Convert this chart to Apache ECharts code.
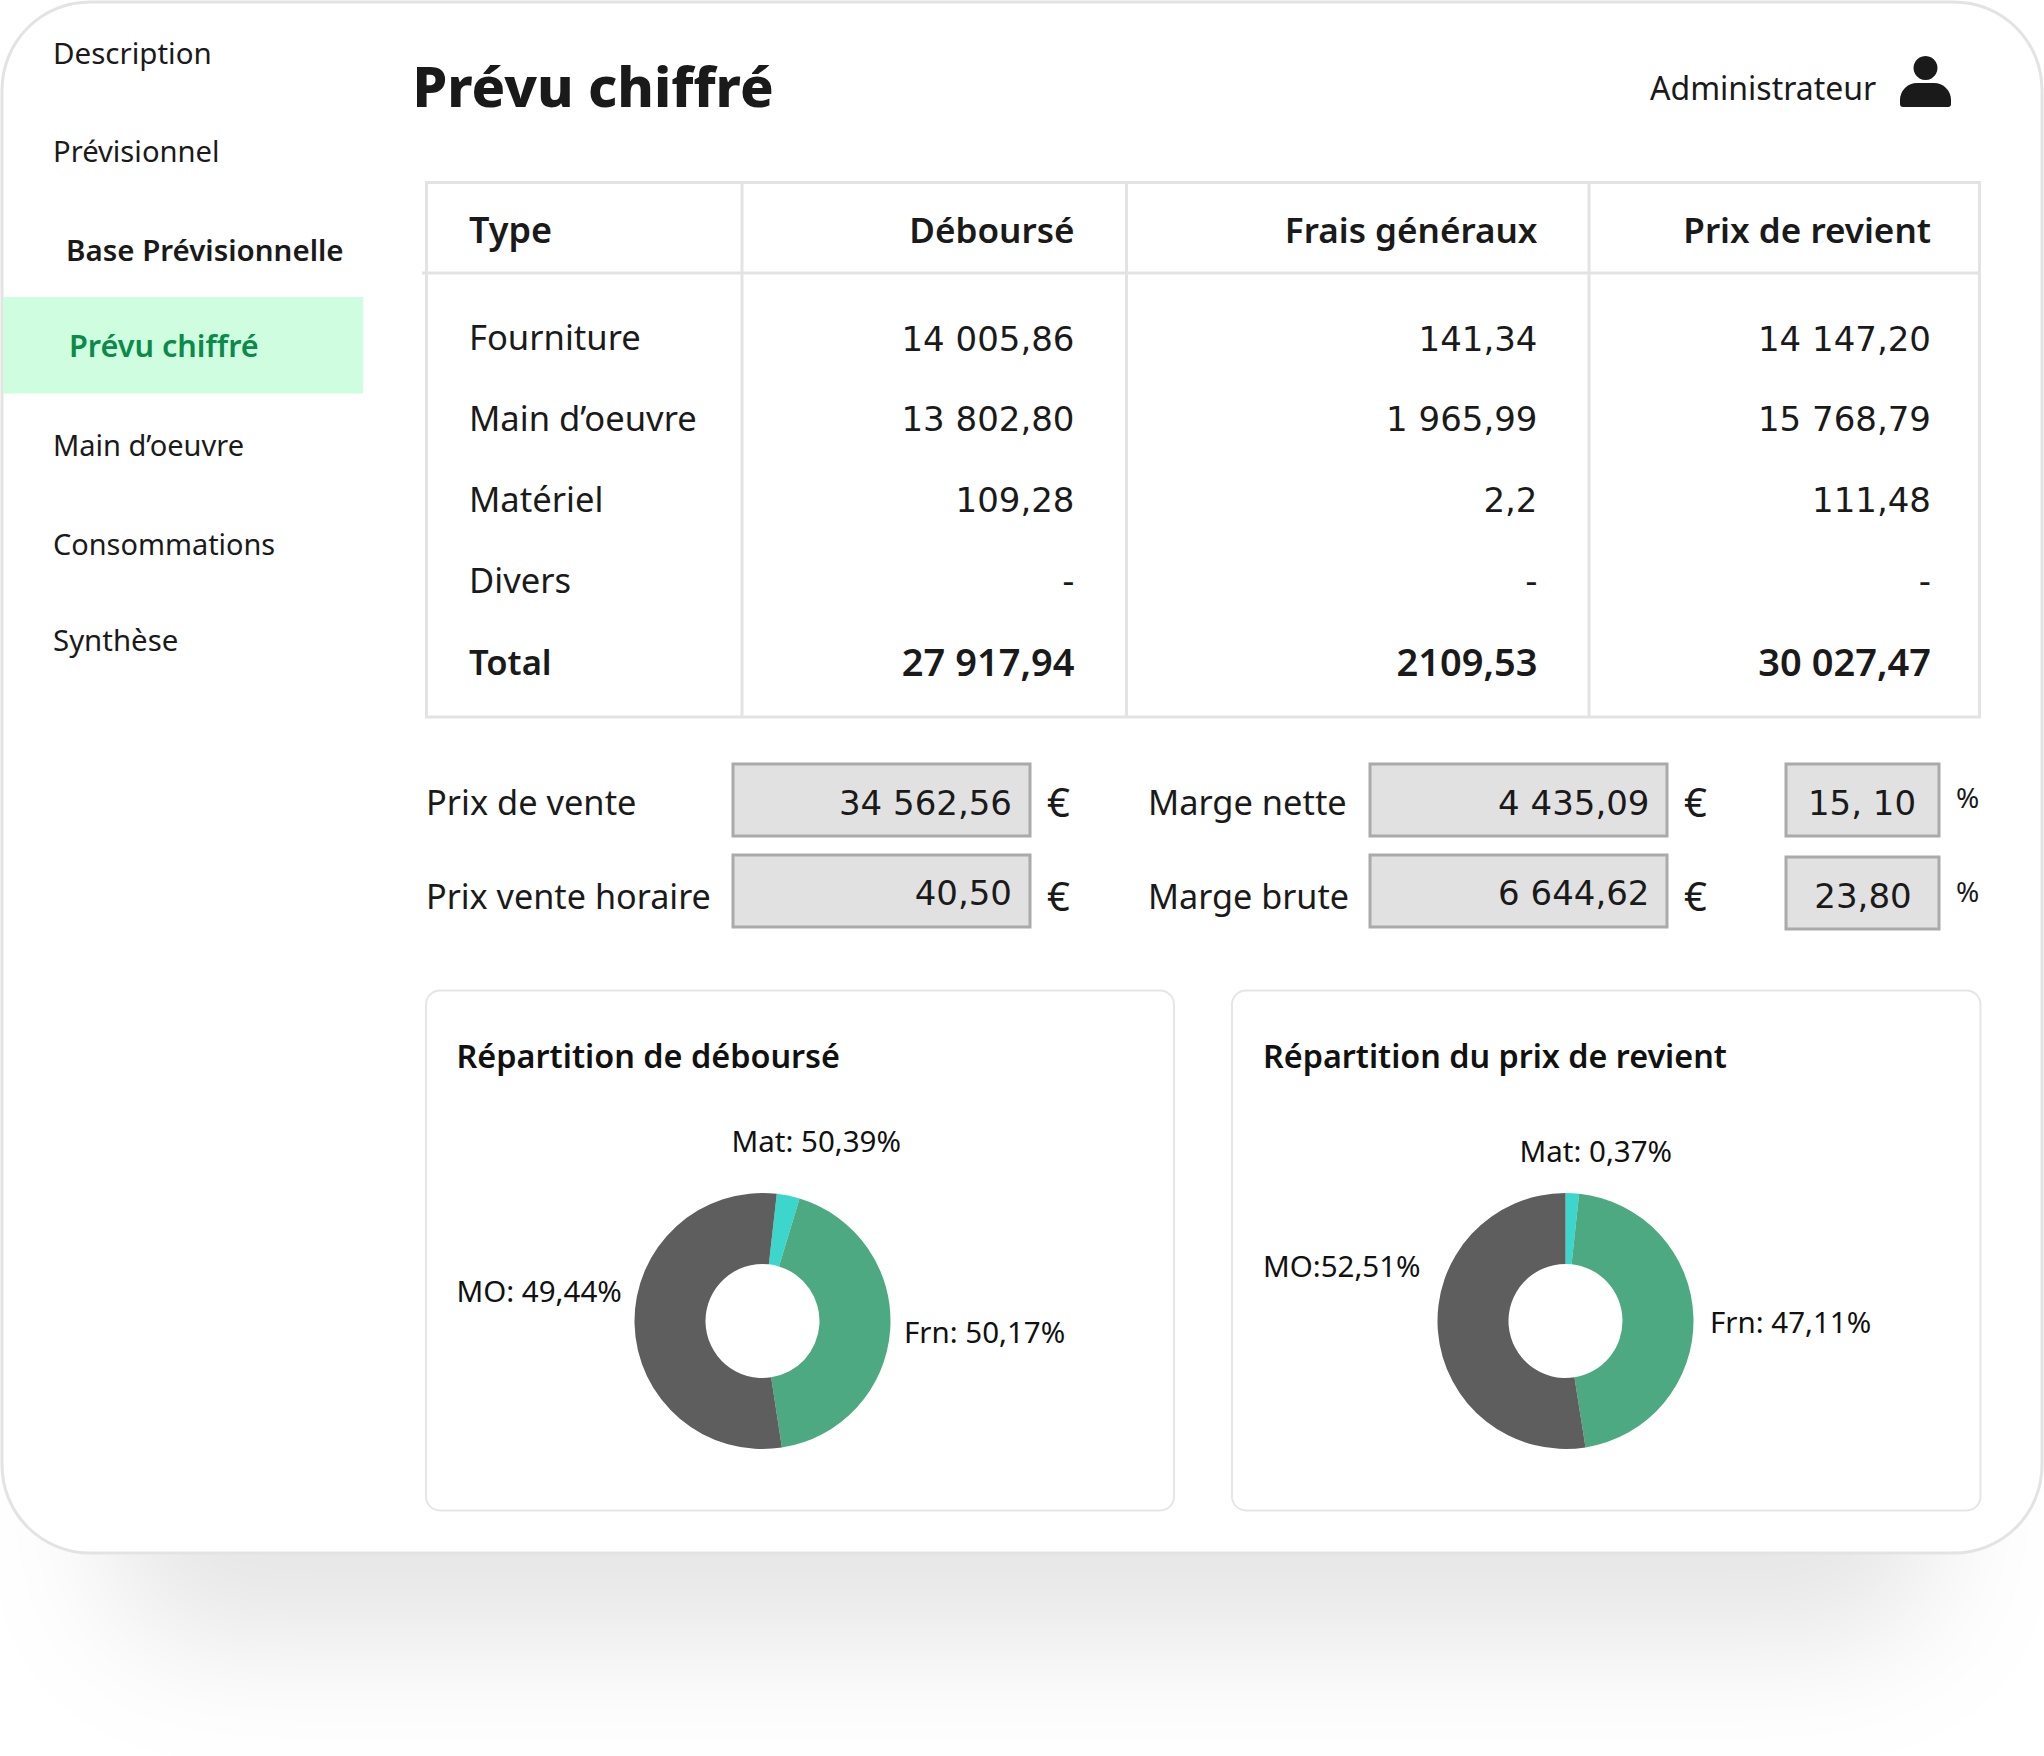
<!DOCTYPE html>
<html lang="fr"><head><meta charset="utf-8"><title>Prévu chiffré</title>
<script src="https://cdn.jsdelivr.net/npm/echarts@6/dist/echarts.min.js"></script>
<style>html,body{margin:0;padding:0;background:#fff}#c{width:2044px;height:1756px}</style></head>
<body><div id="c"></div>
<script>
const navItems = ['Description','Prévisionnel','Base Prévisionnelle','Prévu chiffré','Main d’oeuvre','Consommations','Synthèse'];
const pageTitle = 'Prévu chiffré';
const userName = 'Administrateur';
const tableHeaders = ['Type','Déboursé','Frais généraux','Prix de revient'];
const rowTypes = ['Fourniture','Main d’oeuvre','Matériel','Divers','Total'];
const debourse = ['14 005,86','13 802,80','109,28','-','27 917,94'];
const fraisGeneraux = ['141,34','1 965,99','2,2','-','2109,53'];
const prixRevient = ['14 147,20','15 768,79','111,48','-','30 027,47'];
const fieldLabels = ['Prix de vente','Prix vente horaire','Marge nette','Marge brute'];
const fieldValues = ['34 562,56','40,50','4 435,09','6 644,62'];
const percentValues = ['15, 10','23,80'];
const chartTitles = ['Répartition de déboursé','Répartition du prix de revient'];
const sliceLabels1 = ['Mat: 50,39%','Frn: 50,17%','MO: 49,44%'];
const sliceLabels2 = ['Mat: 0,37%','Frn: 47,11%','MO:52,51%'];
const sliceValues1 = [2.9,42.9,54.2];
const sliceValues2 = [1.7,45.8,52.5];
const sliceColors = ['#3dd6cc','#4da981','#5e5e5e'];

const FF = '"Noto Sans", sans-serif';
const NUM = '"DejaVu Sans", "Noto Sans", sans-serif';
const INK = '#1a1a1a';
const els = [];
function text(x,y,str,size,opt){opt=opt||{};els.push({type:'text',z:5,silent:true,style:{text:str,x:x,y:y-2,fill:opt.color||INK,fontFamily:opt.font||FF,fontSize:size,fontWeight:opt.weight||400,align:opt.align||'left',verticalAlign:'middle'}});}
function box(x,y,w,h,fill,stroke,lw,r){els.push({type:'rect',z:1,silent:true,shape:{x:x,y:y,width:w,height:h,r:r||0},style:{fill:fill,stroke:stroke,lineWidth:lw}});}
function line(x1,y1,x2,y2,c,lw){els.push({type:'line',z:2,silent:true,shape:{x1:x1,y1:y1,x2:x2,y2:y2},style:{stroke:c,lineWidth:lw}});}

// drop shadow + card
els.push({type:'rect',z:0,silent:true,shape:{x:110,y:800,width:1824,height:690,r:90},style:{fill:'#fff',shadowColor:'rgba(0,0,0,0.10)',shadowBlur:130,shadowOffsetY:150}});
box(2,2,2040,1551,'#fff','#e3e3e3',3,88);

// sidebar
els.push({type:'rect',z:1,silent:true,shape:{x:3,y:297,width:360,height:96.5},style:{fill:'#cffde0'}});
const navX=[53,53,66,69,53,53,53], navY=[54.8,153.3,251.3,347.3,446.3,545,642.3];
const navSize=[29.5,29.2,29.5,30.6,29,28.9,29.4];
navItems.forEach((n,i)=>text(navX[i],navY[i],n,navSize[i],{weight:(i===2||i===3)?600:400,color:i===3?'#0b8a4a':INK}));

// header
text(412.5,87,pageTitle,55.6,{weight:800});
text(1650,89.3,userName,32);
els.push({type:'circle',z:2,silent:true,shape:{cx:1925.5,cy:68,r:12},style:{fill:'#1a1a1a'}});
els.push({type:'rect',z:2,silent:true,shape:{x:1900,y:83,width:51,height:24,r:[17,17,3,3]},style:{fill:'#1a1a1a'}});

// table
const L='#e3e3e3';
box(426.5,182.5,1553,534.5,'#fff',L,3);
line(422,273,1980,273,L,3);
[742,1126.5,1589].forEach(x=>line(x,182,x,717,L,3));
const colRight=[1074.5,1537.5,1931], rowY=[338.9,419.8,500.6,581.3,663.3];
text(469,231,tableHeaders[0],36,{weight:600});
[1,2,3].forEach(i=>text(colRight[i-1],231,tableHeaders[i],35.1,{weight:600,align:'right'}));
rowTypes.forEach((r,i)=>{const bold=i===4;const w=bold?600:400;const f=bold?FF:NUM;const s=bold?38:34;const dy=bold?0:1.6;
  text(469,rowY[i],r,34.6,{weight:w});
  text(colRight[0],rowY[i]+dy,debourse[i],s,{weight:w,align:'right',font:f});
  text(colRight[1],rowY[i]+dy,fraisGeneraux[i],s,{weight:w,align:'right',font:f});
  text(colRight[2],rowY[i]+dy,prixRevient[i],s,{weight:w,align:'right',font:f});
});

// fields
const F='#e1e1e1',S='#aaaaaa';
box(733,764,297,72,F,S,3); box(733,855,297,72,F,S,3);
box(1370,764,297,72,F,S,3); box(1370,855,297,72,F,S,3);
box(1786,764,153,72,F,S,3); box(1786,857,153,72,F,S,3);
const fy=[803,897];
text(426,fy[0],fieldLabels[0],34.4); text(426,fy[1],fieldLabels[1],34.2);
text(1148,fy[0],fieldLabels[2],34.4); text(1148,fy[1],fieldLabels[3],34.2);
text(1012,fy[0]+1.5,fieldValues[0],34,{align:'right',font:NUM}); text(1012,fy[1]-2,fieldValues[1],34,{align:'right',font:NUM});
text(1649.5,fy[0]+1.5,fieldValues[2],34,{align:'right',font:NUM}); text(1649.5,fy[1]-2,fieldValues[3],34,{align:'right',font:NUM});
text(1047,fy[0],'€',40); text(1047,fy[1],'€',40); text(1684,fy[0],'€',40); text(1684,fy[1],'€',40);
text(1862,fy[0]+1.5,percentValues[0],34,{align:'center',font:NUM}); text(1863,fy[1]+1,percentValues[1],34,{align:'center',font:NUM});
text(1956,799,'%',28); text(1956,893,'%',28);

// chart cards
box(426,990.5,748,520,'#fff','#e6e6e6',2,14); box(1232,990.5,748.5,520,'#fff','#e6e6e6',2,14);
text(456.5,1057,chartTitles[0],32.4,{weight:600,color:'#111'});
text(1263,1057,chartTitles[1],32.3,{weight:600,color:'#111'});

const labelPos1=[[731.5,1140.5],[904,1331],[456.5,1290.5]];
const labelPos2=[[1519.5,1150],[1710,1321.6],[1263,1265.5]];
function pie(center,start,vals,names,pos){return {type:'pie',center:center,radius:[57,128],startAngle:start,clockwise:true,animation:false,silent:true,
  data:vals.map((v,i)=>({value:v,name:names[i],itemStyle:{color:sliceColors[i]}})),
  label:{show:true,formatter:'{b}',color:'#111',fontFamily:FF,fontSize:29.5},labelLine:{show:false},
  labelLayout:p=>({x:pos[p.dataIndex][0],y:pos[p.dataIndex][1],align:'left',verticalAlign:'middle'}),
  emphasis:{disabled:true}};}

const chart=echarts.init(document.getElementById('c'),null,{renderer:'svg',width:2044,height:1756});
chart.setOption({animation:false,backgroundColor:'#fff',
  series:[pie([762.5,1321],83.6,sliceValues1,sliceLabels1,labelPos1),pie([1565.5,1321],90,sliceValues2,sliceLabels2,labelPos2)],
  graphic:{elements:els}});
</script></body></html>
